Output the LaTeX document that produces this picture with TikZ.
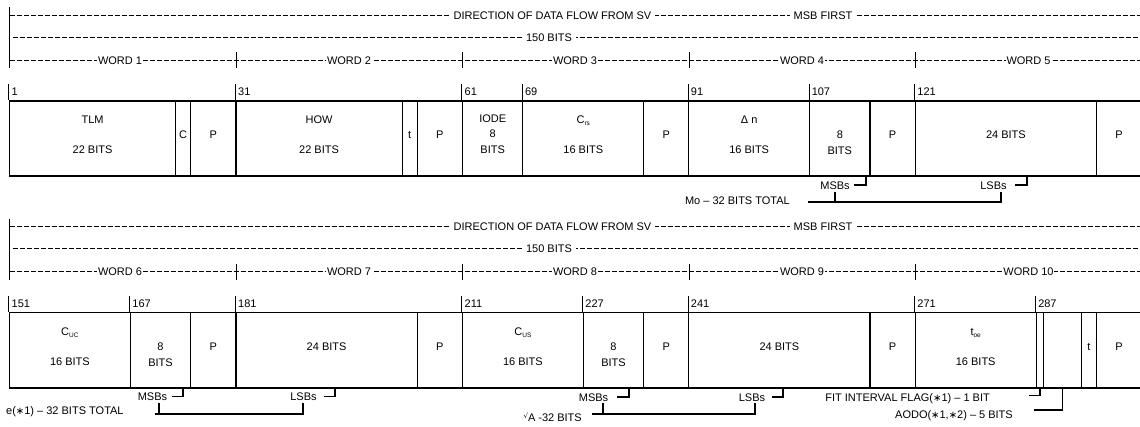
\documentclass[tikz,border=0pt]{standalone}
\usepackage{fontspec}
\setmainfont{Liberation Sans}
\newfontfamily\symfont{DejaVu Sans}
\usetikzlibrary{fit}
\newcommand\myfs{\fontsize{11}{13}\selectfont}
\newcommand\astx{{\symfont\fontsize{10}{10}\selectfont ∗}}
\newcommand\subx[1]{\raisebox{-2pt}{\fontsize{6.5}{7}\selectfont #1}}
\newcommand\hdrpanel[3]{%
  \coordinate (vt#2) at (9.5,7+#1);
  \coordinate (vb#2) at (9.5,68+#1);
  \draw[tick] (vt#2) -- (vb#2);
  \coordinate (ra#2) at (9.5,15+#1);  \coordinate (rb#2) at (1140,15+#1);
  \coordinate (rc#2) at (13,37+#1);   \coordinate (rd#2) at (1140,37+#1);
  \coordinate (re#2) at (9.5,60+#1);  \coordinate (rf#2) at (1140,60+#1);
  \draw[dl] (ra#2) -- (rb#2);
  \draw[dl] (rc#2) -- (rd#2);
  \draw[dl] (re#2) -- (rf#2);
  \foreach \xx/\nn in {236/a,462.5/b,689/c,915.3/d}{
    \coordinate (wt\nn#2) at (\xx,52+#1);
    \draw[tick] (wt\nn#2) -- ++(0,16);
  }
  \node[hdr] (dir#2) at (552.5,15+#1) {DIRECTION OF DATA FLOW FROM SV};
  \node[hdr] (msbf#2) at (823,15+#1) {MSB FIRST};
  \node[hdr] (bits#2) at (549,37+#1) {150 BITS};
  \node[wrd] (wa#2) at (120,60+#1) {WORD \the\numexpr#3\relax};
  \node[wrd] (wb#2) at (349,60+#1) {WORD \the\numexpr#3+1\relax};
  \node[wrd] (wc#2) at (575,60+#1) {WORD \the\numexpr#3+2\relax};
  \node[wrd] (wd#2) at (802,60+#1) {WORD \the\numexpr#3+3\relax};
  \node[wrd] (we#2) at (1028.5,60+#1) {WORD \the\numexpr#3+4\relax};
}
\newcommand\bitlabel[3]{%
  \draw[tick] (#1.north west) -- ++(0,-16);
  \node[bitno] (#3) at ([xshift=2.5pt,yshift=8.5pt]#1.north west) {#2};
}
\begin{document}
\begin{tikzpicture}[x=1pt,y=-1pt,
  fld/.style={draw, line width=1.1pt, inner sep=0pt, align=center, font=\myfs},
  tick/.style={line width=1pt},
  dl/.style={line width=0.7pt, dash pattern=on 5pt off 2pt},
  hdr/.style={fill=white, inner xsep=4pt, inner ysep=1pt, text height=8pt, text depth=0pt, font=\myfs},
  wrd/.style={fill=white, inner xsep=0.6pt, inner ysep=1pt, text height=8pt, text depth=0pt, font=\myfs},
  bitno/.style={anchor=west, inner sep=0pt, text height=8pt, text depth=0pt, font=\myfs},
  ann/.style={inner sep=0pt, text height=8pt, text depth=0pt, font=\myfs},
  brk/.style={line width=1.8pt}]
\useasboundingbox (0,0) rectangle (1140,426);

% ---------------- panel 1 header ----------------
\hdrpanel{0}{A}{1}

% ---------------- row 1 fields ----------------
\node[fld, fit={(9.5,101) (175.6,176)}] (tlm) {TLM\\[17pt]22 BITS};
\node[fld, fit={(175.6,101) (190.7,176)}] (cA) {C};
\node[fld, fit={(190.7,101) (236,176)}] (pA1) {P};
\node[fld, fit={(236,101) (402.1,176)}] (how) {HOW\\[17pt]22 BITS};
\node[fld, fit={(402.1,101) (417.2,176)}] (tA) {t};
\node[fld, fit={(417.2,101) (462.5,176)}] (pA2) {P};
\node[fld, fit={(462.5,101) (522.9,176)}] (iode) {IODE\\[2pt]8\\[3pt]BITS};
\node[fld, fit={(522.9,101) (643.7,176)}] (crs) {C\subx{rs}\\[17pt]16 BITS};
\node[fld, fit={(643.7,101) (688.8,176)}] (pA3) {P};
\node[fld, fit={(688.8,101) (809.6,176)}] (dn) {Δ n\\[17pt]16 BITS};
\node[fld, fit={(809.6,101) (870,176)}] (e8A) {\mbox{}\\[3pt]8\\[3pt]BITS};
\node[fld, fit={(870,101) (915.3,176)}] (pA4) {P};
\node[fld, fit={(915.3,101) (1096.5,176)}] (b24A) {24 BITS};
\node[fld, fit={(1096.5,101) (1141.8,176)}] (pA5) {P};

\bitlabel{tlm}{1}{nA1}
\bitlabel{how}{31}{nA2}
\bitlabel{iode}{61}{nA3}
\bitlabel{crs}{69}{nA4}
\bitlabel{dn}{91}{nA5}
\bitlabel{e8A}{107}{nA6}
\bitlabel{b24A}{121}{nA7}

% row 1 annotations
\node[ann] (msbA) at (835,185) {MSBs};
\coordinate (mbA) at (866,176);
\draw[brk] ([xshift=4pt]msbA.east) -| (mbA);
\node[ann] (lsbA) at (993.5,185) {LSBs};
\coordinate (lbA) at (1027,176);
\draw[brk] ([xshift=8pt]lsbA.east) -| (lbA);
\node[ann, anchor=east] (totA) at (790,200) {Mo – 32 BITS TOTAL};
\coordinate (jA1) at (808,201.7);
\coordinate (jA2) at (1000.7,192);
\coordinate (jA3) at (835,192);
\draw[brk] (jA1) -| (jA2);
\draw[brk] (jA3) -- (jA3 |- jA1);

% ---------------- panel 2 header ----------------
\hdrpanel{211.5}{B}{6}

% ---------------- row 2 fields ----------------
\node[fld, fit={(9.5,312.5) (130.3,388)}] (cuc) {C\subx{UC}\\[17pt]16 BITS};
\node[fld, fit={(130.3,312.5) (190.7,388)}] (e8B) {\mbox{}\\[3pt]8\\[3pt]BITS};
\node[fld, fit={(190.7,312.5) (236,388)}] (pB1) {P};
\node[fld, fit={(236,312.5) (417.2,388)}] (b24B) {24 BITS};
\node[fld, fit={(417.2,312.5) (462.5,388)}] (pB2) {P};
\node[fld, fit={(462.5,312.5) (583.3,388)}] (cus) {C\subx{US}\\[17pt]16 BITS};
\node[fld, fit={(583.3,312.5) (643.7,388)}] (e8C) {\mbox{}\\[3pt]8\\[3pt]BITS};
\node[fld, fit={(643.7,312.5) (688.8,388)}] (pB3) {P};
\node[fld, fit={(688.8,312.5) (870,388)}] (b24C) {24 BITS};
\node[fld, fit={(870,312.5) (915.3,388)}] (pB4) {P};
\node[fld, fit={(915.3,312.5) (1036.1,388)}] (toe) {t\subx{oe}\\[17pt]16 BITS};
\node[fld, fit={(1036.1,312.5) (1043.7,388)}] (fitf) {};
\node[fld, fit={(1043.7,312.5) (1081.4,388)}] (aodo) {};
\node[fld, fit={(1081.4,312.5) (1096.5,388)}] (tB) {t};
\node[fld, fit={(1096.5,312.5) (1141.8,388)}] (pB5) {P};

\bitlabel{cuc}{151}{nB1}
\bitlabel{e8B}{167}{nB2}
\bitlabel{b24B}{181}{nB3}
\bitlabel{cus}{211}{nB4}
\bitlabel{e8C}{227}{nB5}
\bitlabel{b24C}{241}{nB6}
\bitlabel{toe}{271}{nB7}
\bitlabel{fitf}{287}{nB8}

% row 2 annotations
\node[ann] (msbB) at (152.5,396.5) {MSBs};
\coordinate (mbB) at (183,388);
\draw[brk] ([xshift=5pt]msbB.east) -| (mbB);
\node[ann] (lsbB) at (303.5,396.5) {LSBs};
\coordinate (lbB) at (335,388);
\draw[brk] ([xshift=7pt]lsbB.east) -| (lbB);
\node[ann, anchor=west] (totB) at (6,410) {e(\astx1) – 32 BITS TOTAL};
\coordinate (jB1) at (155,414.3);
\coordinate (jB2) at (303,403);
\coordinate (jB3) at (159,403);
\draw[brk] (jB1) -| (jB2);
\draw[brk] (jB3) -- (jB3 |- jB1);

\node[ann] (msbC) at (593.5,397) {MSBs};
\coordinate (mbC) at (629,388);
\draw[brk] ([xshift=9pt]msbC.east) -| (mbC);
\node[ann] (lsbC) at (752,397) {LSBs};
\coordinate (lbC) at (783,388);
\draw[brk] ([xshift=7pt]lsbC.east) -| (lbC);
\node[ann, anchor=east] (sqA) at (582,417) {\raisebox{3pt}{\symfont\fontsize{7}{7}\selectfont √}A -32 BITS};
\coordinate (jC1) at (592,414);
\coordinate (jC2) at (755,403);
\coordinate (jC3) at (602.7,403);
\draw[brk] (jC1) -| (jC2);
\draw[brk] (jC3) -- (jC3 |- jC1);

\node[ann, anchor=east] (fitl) at (990,397) {FIT INTERVAL FLAG(\astx1) – 1 BIT};
\draw[brk] ([xshift=39pt,yshift=1.5pt]fitl.east) -| (fitf.south);
\node[ann, anchor=east] (aodl) at (1013,414.5) {AODO(\astx1,\astx2) – 5 BITS};
\draw[brk] ([xshift=21pt,yshift=4.5pt]aodl.east) -| (aodo.south);
\end{tikzpicture}
\end{document}
